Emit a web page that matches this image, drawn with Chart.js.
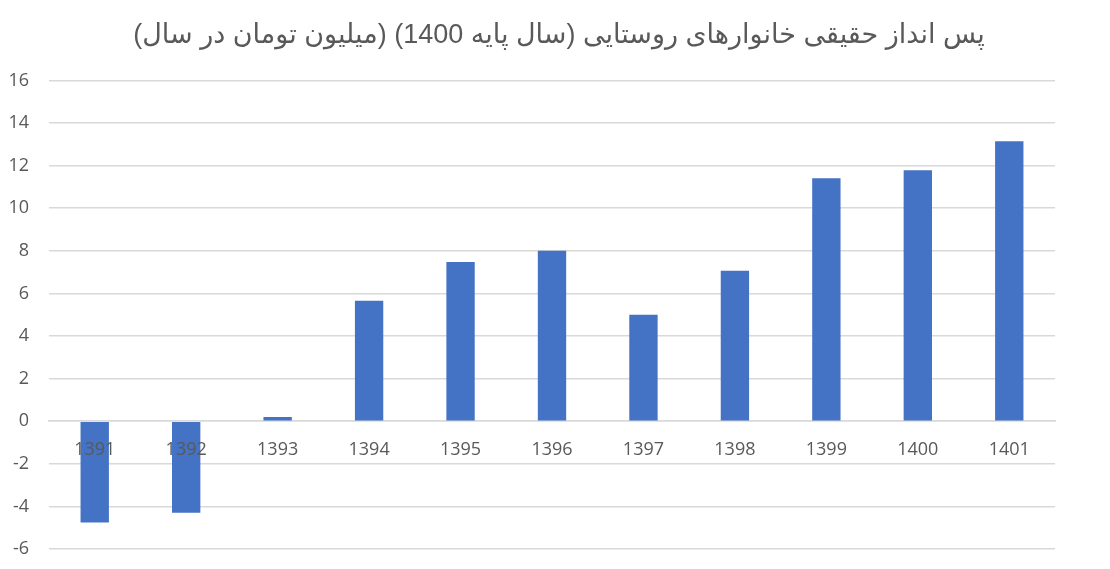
<!DOCTYPE html>
<html>
<head>
<meta charset="utf-8">
<script src="https://cdn.jsdelivr.net/npm/chart.js@4.4.1/dist/chart.umd.min.js"></script>
<style>
html,body{margin:0;padding:0;background:#fff;}
#wrap{width:1110px;height:569px;position:relative;}
</style>
</head>
<body>
<div id="wrap"><canvas id="c"></canvas></div>
<script>
const titleText = "پس انداز حقیقی خانوارهای روستایی (سال پایه 1400) (میلیون تومان در سال)";
const categories = ["1391","1392","1393","1394","1395","1396","1397","1398","1399","1400","1401"];
const values = [-4.76, -4.3, 0.2, 5.65, 7.48, 8.0, 5.0, 7.06, 11.41, 11.78, 13.14];
const yTicks = [-6,-4,-2,0,2,4,6,8,10,12,14,16];

new Chart(document.getElementById('c'), {
  type: 'bar',
  data: {
    labels: categories,
    datasets: [{
      data: values,
      backgroundColor: '#4472C4',
      borderWidth: 0,
      barPercentage: 1,
      categoryPercentage: 0.31
    }]
  },
  options: {
    responsive: true,
    maintainAspectRatio: false,
    animation: false,
    layout: { padding: { left: 8, right: 0, top: 4, bottom: 20 } },
    plugins: {
      legend: { display: false },
      tooltip: { enabled: false },
      title: {
        display: true,
        text: titleText,
        color: '#595959',
        font: { family: "'Liberation Sans', 'DejaVu Sans', sans-serif", size: 27, weight: 'normal' },
        padding: { top: 15, bottom: 29 }
      }
    },
    scales: {
      x: {
        position: { y: 0 },
        afterFit: (s) => { s.paddingTop = 0; s.paddingBottom = 0; },
        grid: { display: false, drawTicks: false },
        border: { display: true, color: '#D9D9D9', width: 1.5 },
        ticks: {
          z: 1,
          color: '#595959',
          font: { family: "'Open Sans', 'Liberation Sans', sans-serif", size: 18 },
          padding: 18,
          maxRotation: 0
        }
      },
      y: {
        min: -6, max: 16,
        afterBuildTicks: (s) => { s.ticks = yTicks.map(v => ({ value: v })); },
        afterFit: (s) => { s.width = 41; s.paddingTop = 0; s.paddingBottom = 0; },
        grid: { color: '#D9D9D9', lineWidth: 1.5, drawTicks: false },
        border: { display: false },
        ticks: {
          color: '#595959',
          font: { family: "'Open Sans', 'Liberation Sans', sans-serif", size: 18 },
          padding: 20
        }
      },
      yR: {
        position: 'right',
        min: -6, max: 16,
        afterFit: (s) => { s.width = 55; s.paddingTop = 0; s.paddingBottom = 0; },
        grid: { display: false, drawTicks: false },
        border: { display: false },
        ticks: { display: false }
      }
    }
  }
});
</script>
</body>
</html>
